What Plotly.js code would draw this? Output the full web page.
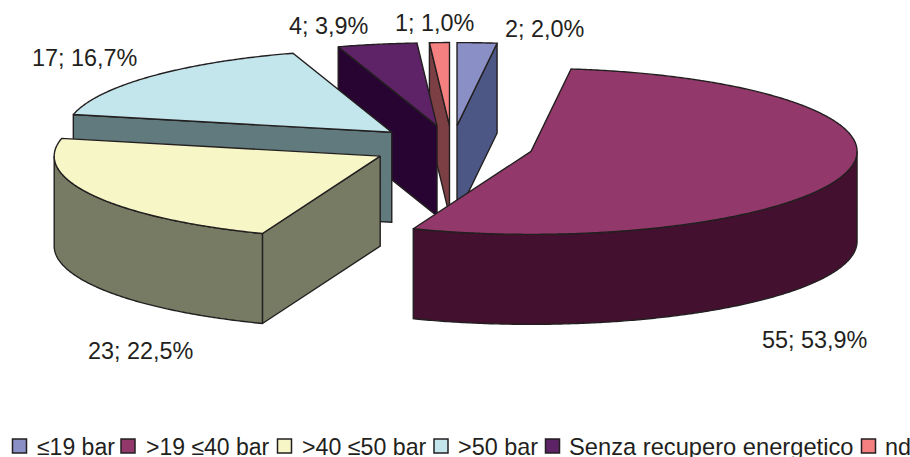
<!DOCTYPE html>
<html>
<head>
<meta charset="utf-8">
<script src="https://cdn.plot.ly/plotly-3.0.1.min.js"></script>
<style>html,body{margin:0;padding:0;background:#fff}#chart{width:910px;height:457px}</style>
</head>
<body>
<div id="chart"></div>
<script>
// Data
const categories = ["≤19 bar", ">19 ≤40 bar", ">40 ≤50 bar", ">50 bar", "Senza recupero energetico", "nd"];
const counts = [2, 55, 23, 17, 4, 1];

// Styles
const topColors = ["#8a90c6", "#93386a", "#f7f6c6", "#c3e6ec", "#5e2367", "#f58080"];
const sideColors = ["#4d5786", "#43112f", "#777b63", "#607a7d", "#280433", "#7c4044"];
const edgeColor = "#231f20";
const textColor = "#231f20";
const fontFamily = '"Liberation Sans", Arial, sans-serif';
const legendFontSizes = [23, 23, 23.2, 23.4, 23.7, 23.4];

// Layout of the drawing (pixels)
const W = 910, H = 457;
const PIE = {cx: 452, cy: 146.3, radius: 326, tilt: 0.2546, explode: 0.25, depth: 0.276};
const paintOrder = [0, 5, 4, 3, 2, 1];
const labelPos = [[544, 29], [814, 340], [140, 351], [84, 58], [328, 26], [434, 23]];
const legendSwatchX = [19.5, 128, 284.5, 441, 552.5, 868.5];
const legendTextX = [36, 145, 301, 457, 568, 884];
const legendY = 446.5;

const total = counts.reduce((a, b) => a + b, 0);
const rad = d => d * Math.PI / 180;

// Slice angles, clockwise from 12 o'clock
let acc = 0;
const slices = counts.map((v, i) => {
  const a = acc / total * 360;
  acc += v;
  const b = acc / total * 360;
  const mid = rad((a + b) / 2);
  return {i, a, b, ox: PIE.explode * Math.sin(mid), oy: PIE.explode * PIE.tilt * Math.cos(mid)};
});

const rimPoint = (s, deg) => [s.ox + Math.sin(rad(deg)), s.oy + PIE.tilt * Math.cos(rad(deg))];
function arc(s, from, to) {
  const n = Math.max(2, Math.ceil(Math.abs(to - from) * 2));
  const pts = [];
  for (let k = 0; k <= n; k++) pts.push(rimPoint(s, from + (to - from) * k / n));
  return pts;
}
function poly(pts, fill, name) {
  const closed = pts.concat([pts[0]]);
  return {
    type: "scatter", mode: "lines", name,
    x: closed.map(p => p[0]), y: closed.map(p => p[1]),
    fill: "toself", fillcolor: fill,
    line: {color: edgeColor, width: 1.4, simplify: false},
    hoverinfo: "skip", showlegend: false
  };
}
const drop = pts => pts.map(p => [p[0], p[1] - PIE.depth]);

const traces = [];
paintOrder.forEach(idx => {
  const s = slices[idx];
  const name = categories[idx];
  const side = sideColors[idx];
  const apex = [s.ox, s.oy];
  const faceAt = deg => {
    const e = rimPoint(s, deg);
    return [apex, e].concat(drop([e, apex]));
  };
  // Radial cut faces turned towards the viewer
  if (Math.sin(rad(s.a)) < -1e-6) traces.push(poly(faceAt(s.a), side, name));
  if (Math.sin(rad(s.b)) > 1e-6) traces.push(poly(faceAt(s.b), side, name));
  // Outer wall: only the front half of the rim
  const from = Math.max(s.a, 90), to = Math.min(s.b, 270);
  if (to > from) {
    const top = arc(s, from, to);
    traces.push(poly(top.concat(drop(top).reverse()), side, name));
  }
  // Top surface
  traces.push(poly([apex].concat(arc(s, s.a, s.b)), topColors[idx], name));
});

// Legend swatches, placed through a marker trace
const px2x = p => (p - PIE.cx) / PIE.radius;
const px2y = p => (PIE.cy - p) / PIE.radius;
traces.push({
  type: "scatter", mode: "markers",
  x: legendSwatchX.map(px2x),
  y: legendSwatchX.map(() => px2y(446)),
  marker: {symbol: "square", size: 14, color: topColors, line: {color: edgeColor, width: 1.5}},
  text: categories, hoverinfo: "text", showlegend: false, cliponaxis: false
});

const fmt = v => v + "; " + (v / total * 100).toFixed(1).replace(".", ",") + "%";
const annotations = [];
counts.forEach((v, i) => {
  annotations.push({
    xref: "paper", yref: "paper", x: labelPos[i][0] / W, y: 1 - labelPos[i][1] / H,
    xanchor: "center", yanchor: "middle", showarrow: false, text: fmt(v),
    font: {family: fontFamily, size: 23.4, color: textColor}
  });
});
categories.forEach((c, i) => {
  annotations.push({
    xref: "paper", yref: "paper", x: legendTextX[i] / W, y: 1 - legendY / H,
    xanchor: "left", yanchor: "middle", showarrow: false, text: c.replace(/>/g, "&gt;"),
    borderpad: 0, font: {family: fontFamily, size: legendFontSizes[i], color: textColor}
  });
});

const hiddenAxis = range => ({range, visible: false, fixedrange: true, showgrid: false, zeroline: false});
Plotly.newPlot("chart", traces, {
  width: W, height: H,
  margin: {l: 0, r: 0, t: 0, b: 0},
  paper_bgcolor: "#fff", plot_bgcolor: "#fff",
  xaxis: hiddenAxis([px2x(0), px2x(W)]),
  yaxis: hiddenAxis([px2y(H), px2y(0)]),
  showlegend: false,
  annotations
}, {displayModeBar: false, staticPlot: true});
</script>
</body>
</html>
